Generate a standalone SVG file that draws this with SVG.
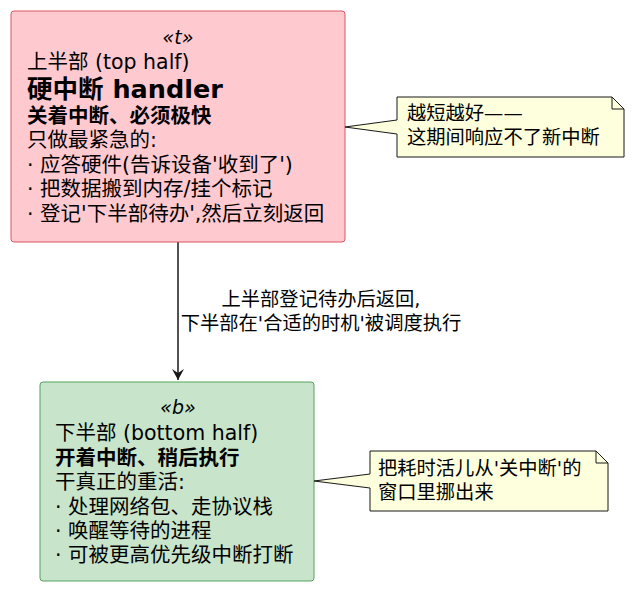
<svg xmlns="http://www.w3.org/2000/svg" width="633" height="589" viewBox="0 0 633 589">
<style>
text{font-family:"DejaVu Sans","Noto Sans CJK SC",sans-serif;font-size:20.5px;fill:#000}
.b{font-weight:bold}
.st{font-style:italic;text-anchor:middle;font-size:19px}
.note{fill:#FEFFDD;stroke:#181818;stroke-width:1}
.nt{font-size:19.3px}
</style>
<defs><marker id="ah" viewBox="0 0 12 12" refX="11" refY="6" markerWidth="12" markerHeight="12" orient="auto" markerUnits="userSpaceOnUse"><path d="M0,0 L11,6 L0,12 L4,6 Z" fill="#181818"/></marker></defs>
<g id="connectors">
<line x1="178" y1="242" x2="178" y2="380" stroke="#181818" stroke-width="1.5" marker-end="url(#ah)"/>
<text x="321" y="306" class="nt" text-anchor="middle">上半部登记待办后返回,</text>
<text x="321" y="330" class="nt" text-anchor="middle">下半部在'合适的时机'被调度执行</text>
</g>
<g id="top">
<rect x="11" y="11" width="334" height="231" rx="3" fill="#FFC9D0" stroke="#D9555E"/>
<text x="178" y="44" class="st">«t»</text>
<text x="27" y="69">上半部 (top half)</text>
<text x="27" y="98" class="b" style="font-size:25.5px">硬中断 handler</text>
<text x="27" y="123" class="b">关着中断、必须极快</text>
<text x="27" y="147">只做最紧急的:</text>
<text x="27" y="172">· 应答硬件(告诉设备'收到了')</text>
<text x="27" y="196">· 把数据搬到内存/挂个标记</text>
<text x="27" y="221">· 登记'下半部待办',然后立刻返回</text>
</g>
<g id="note1">
<path class="note" d="M397,97 H612 L624,109 V157 H397 V134 L345,127 L397,120 Z"/>
<path d="M612,97 V109 H624" fill="none" stroke="#181818"/>
<text x="407" y="120" class="nt">越短越好——</text>
<text x="407" y="144" class="nt">这期间响应不了新中断</text>
</g>
<g id="bottom">
<rect x="40" y="382" width="274" height="199" rx="3" fill="#C8E4CB" stroke="#55A35E"/>
<text x="178" y="414" class="st">«b»</text>
<text x="55" y="440">下半部 (bottom half)</text>
<text x="55" y="465" class="b">开着中断、稍后执行</text>
<text x="55" y="489">干真正的重活:</text>
<text x="55" y="514">· 处理网络包、走协议栈</text>
<text x="55" y="538">· 唤醒等待的进程</text>
<text x="55" y="562">· 可被更高优先级中断打断</text>
</g>
<g id="note2">
<path class="note" d="M370,451 H596 L608,463 V511 H370 V488 L314,481 L370,474 Z"/>
<path d="M596,451 V463 H608" fill="none" stroke="#181818"/>
<text x="378" y="475" class="nt">把耗时活儿从'关中断'的</text>
<text x="378" y="499" class="nt">窗口里挪出来</text>
</g>
</svg>
